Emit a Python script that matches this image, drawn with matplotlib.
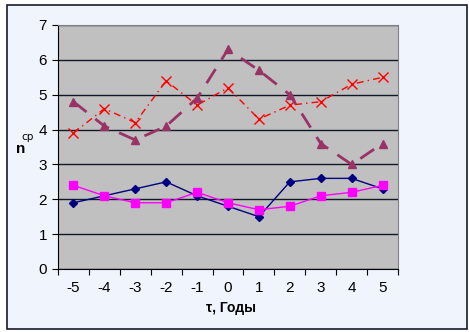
import matplotlib.pyplot as plt
import numpy as np

plt.rcParams['font.family'] = ['Liberation Sans', 'DejaVu Sans']

# years relative to event
years = [-5, -4, -3, -2, -1, 0, 1, 2, 3, 4, 5]

# four series
s_blue = [1.9, 2.1, 2.3, 2.5, 2.1, 1.8, 1.5, 2.5, 2.6, 2.6, 2.3]
s_pink = [2.4, 2.1, 1.9, 1.9, 2.2, 1.9, 1.7, 1.8, 2.1, 2.2, 2.4]
s_red = [3.9, 4.6, 4.2, 5.4, 4.7, 5.2, 4.3, 4.7, 4.8, 5.3, 5.5]
s_purple = [4.8, 4.1, 3.7, 4.1, 4.9, 6.3, 5.7, 5.0, 3.6, 3.0, 3.6]

W, H = 469, 332
fig = plt.figure(figsize=(W / 100, H / 100), dpi=100)
fig.patch.set_facecolor('white')

# outer chart border
frame = plt.Rectangle((7 / W, 1 - 329 / H), 460 / W, 324 / H, transform=fig.transFigure,
                      facecolor='#F0F4FC', edgecolor='#1a1a2e', lw=1.2, zorder=-5)
fig.patches.append(frame)

left, right, top, bottom = 58, 398, 25, 269
ax = fig.add_axes([left / W, 1 - bottom / H, (right - left) / W, (bottom - top) / H])
ax.set_zorder(2)
ax.set_facecolor('#C0C0C0')

x = np.arange(len(years))
ax.plot(x, s_blue, color='#000080', lw=1, marker='D', ms=4, zorder=3)
ax.plot(x, s_pink, color='#FF00FF', lw=1, marker='s', ms=6, zorder=3)
ax.plot(x, s_red, color='#FF0000', lw=1, ls=(0, (5, 3, 1, 3)), marker='x', ms=7, mew=1, zorder=3)
ax.plot(x, s_purple, color='#993366', lw=2, ls=(0, (6, 4)), marker='^', ms=6, zorder=3)

ax.set_xlim(-0.5, len(years) - 0.5)
ax.set_ylim(0, 7)
ax.set_yticks(range(0, 8))
ax.yaxis.grid(True, color='#101828', lw=1)
ax.set_axisbelow(True)

ax.set_xticks(np.arange(-0.5, len(years), 1))
ax.set_xticklabels([])
ax.set_xticks(x, minor=True)
ax.set_xticklabels([str(v) for v in years], minor=True)
ax.tick_params(axis='x', which='minor', length=0, pad=9, labelsize=11)
ax.tick_params(axis='x', which='major', length=4, direction='out', color='black')
ax.tick_params(axis='y', length=4, direction='out', labelsize=11, pad=4)

for side in ['top', 'right']:
    ax.spines[side].set_color('#808080')
for side in ['left', 'bottom']:
    ax.spines[side].set_color('black')

fig.text(231 / W, 1 - 308 / H, 'τ, Годы', ha='center', va='center', fontsize=10, fontweight='bold')
fig.text(21 / W, 1 - 149 / H, 'n', ha='center', va='center', fontsize=11, fontweight='bold')
fig.text(28 / W, 1 - 137 / H, 'ср', ha='center', va='center', fontsize=7.5, family='DejaVu Sans')

fig.savefig('out.png', dpi=100)
